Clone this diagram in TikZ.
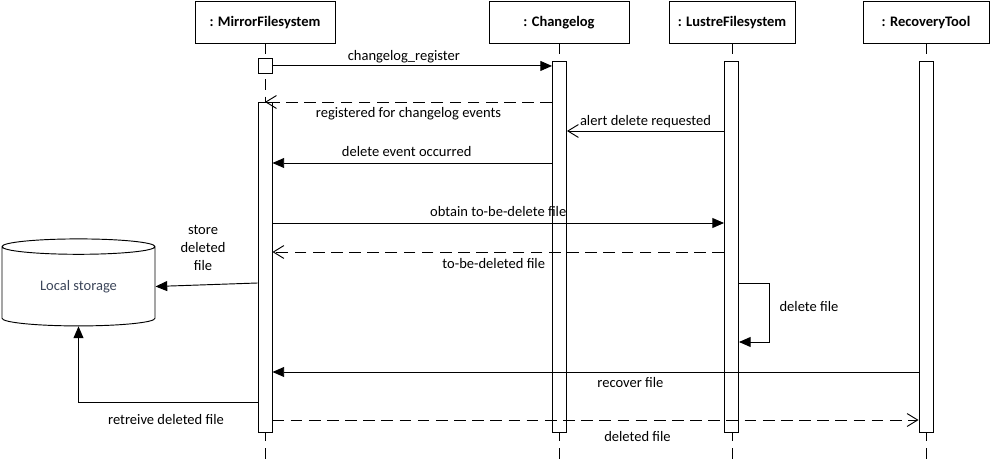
\documentclass[tikz,border=0pt]{standalone}
\usepackage{fontspec}
\setmainfont{Carlito}
\usetikzlibrary{positioning, arrows.meta, shapes.geometric}
\definecolor{storetext}{RGB}{60,70,90}

\tikzset{
  headbox/.style={draw, line width=0.8pt, minimum height=1.26cm, inner sep=0pt,
                  anchor=north, font=\fontsize{12.4}{15}\selectfont\bfseries},
  actbar/.style={draw, fill=white, line width=0.8pt, minimum width=0.42cm,
                 inner sep=0pt, anchor=north},
  lifeline/.style={line width=0.8pt, dash pattern=on 9pt off 6pt},
  msg/.style={line width=0.8pt, -{Triangle[length=10pt, width=8.5pt]}},
  reply/.style={line width=0.8pt, dash pattern=on 10pt off 5.5pt,
                -{Straight Barb[length=9pt, width=11pt]}},
  alert/.style={line width=0.8pt, -{Straight Barb[length=9pt, width=11pt]}},
  msglabel/.style={font=\fontsize{12.4}{15.3}\selectfont, inner sep=2pt}
}

\begin{document}
\begin{tikzpicture}[x=0.03cm, y=-0.03cm]
    \useasboundingbox (0,0) rectangle (991,459);

    % lifeline heads
    \node[headbox, minimum width=4.2cm]  (headMirror) at (265,1)   {: MirrorFilesystem};
    \node[headbox, minimum width=4.2cm]  (headCL)     at (559,1)   {: Changelog};
    \node[headbox, minimum width=3.78cm] (headLustre) at (732,1)   {: LustreFilesystem};
    \node[headbox, minimum width=3.78cm] (headRec)    at (926,1)   {: RecoveryTool};

    % dashed lifelines
    \draw[lifeline] (headMirror.south) -- (headMirror.south |- 0,459);
    \draw[lifeline] (headCL.south)     -- (headCL.south |- 0,459);
    \draw[lifeline] (headLustre.south) -- (headLustre.south |- 0,459);
    \draw[lifeline] (headRec.south)    -- (headRec.south |- 0,459);

    % activation bars
    \node[actbar, minimum height=0.45cm]  (regbox)    at (265,58)  {};
    \node[actbar, minimum height=9.9cm]   (actMirror) at (265,102) {};
    \node[actbar, minimum height=11.13cm] (actCL)     at (559.5,61) {};
    \node[actbar, minimum height=11.13cm] (actLustre) at (731.5,61) {};
    \node[actbar, minimum height=11.13cm] (actRec)    at (926,61)  {};

    % local store
    \node[cylinder, draw, line width=0.8pt, shape border rotate=90, aspect=0.2,
          minimum width=4.59cm, minimum height=2.61cm, inner sep=0pt,
          text=storetext, font=\fontsize{12.4}{15}\selectfont]
          (storage) at (78.5,286.5) {Local storage};

    % messages
    \draw[msg] (regbox.east) -- (regbox.east -| actCL.west)
        node[msglabel, pos=0.47, above=0pt] {changelog\_register};
    \draw[reply] (actCL.west |- actMirror.north) -- (actMirror.north)
        node[msglabel, midway, below=2pt] {registered for changelog events};
    \draw[alert] (actLustre.west |- 0,131) -- (actCL.east |- 0,131)
        node[msglabel, midway, above] {alert delete requested};
    \draw[msg] (actCL.west |- 0,163) -- (actMirror.east |- 0,163)
        node[msglabel, pos=0.52, above=3pt] {delete event occurred};
    \draw[msg] (actMirror.east |- 0,223) -- (actLustre.west |- 0,223)
        node[msglabel, midway, above=3pt] {obtain to-be-delete file};
    \draw[reply] (actLustre.west |- 0,252) -- (actMirror.east |- 0,252)
        node[msglabel, pos=0.51, below=3pt] {to-be-deleted file};
    \draw[msg] (actLustre.east |- 0,283) -- ++(30,0) -- ++(0,59)
        -- (actLustre.east |- 0,342);
    \node[msglabel, anchor=west] (dellabel) at (777,307) {delete file};
    \draw[msg] (actMirror.west |- 0,283) -- (storage.east);
    \node[msglabel, align=center] (storelabel) at (203,248) {store\\deleted\\file};
    \draw[msg] (actRec.west |- 0,372) -- (actMirror.east |- 0,372)
        node[msglabel, pos=0.446, below=2pt] {recover file};
    \draw[msg] (actMirror.west |- 0,402) -| (storage.south);
    \node[msglabel] (retlabel) at (166,420) {retreive deleted file};
    \draw[reply] (actMirror.east |- 0,420) -- (actRec.west |- 0,420)
        node[msglabel, pos=0.565, below=7pt] {deleted file};
\end{tikzpicture}
\end{document}
